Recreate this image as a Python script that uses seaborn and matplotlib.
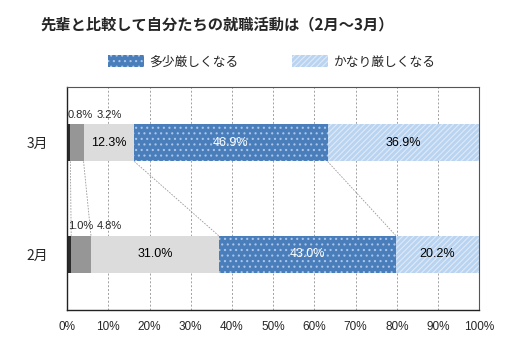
import numpy as np
import pandas as pd
import seaborn as sns
import matplotlib.pyplot as plt

# data
months = ['3月', '2月']
series = ['とても楽になる', 'やや楽になる', '変わらない', '多少厳しくなる', 'かなり厳しくなる']
v_mar = [0.8, 3.2, 12.3, 46.9, 36.9]
v_feb = [1.0, 4.8, 31.0, 43.0, 20.2]
ticks = [0, 10, 20, 30, 40, 50, 60, 70, 80, 90, 100]

colors = ['#2b2b2b', '#969696', '#dcdcdc', '#4a7ebb', '#b9d4f0']
hatches = [None, None, None, '...', '//////']
hatch_cols = [None, None, None, '#a9c5ea', '#dfeaf8']
txt_cols = ['black', 'black', 'black', 'white', 'black']

sns.set_style('white')
plt.rcParams['font.family'] = ['Noto Sans CJK JP', 'DejaVu Sans']
plt.rcParams['hatch.linewidth'] = 0.8

fig = plt.figure(figsize=(5.12, 3.54), dpi=100)
ax = fig.add_axes([0.131, 0.124, 0.805, 0.63])

vals = np.array([v_mar, v_feb])
cum = vals.cumsum(axis=1)
h = 0.333

# draw from the widest stack down so segments overlap into a stacked bar
first_patch = {}
for i in range(len(series) - 1, -1, -1):
    df = pd.DataFrame({'month': months, 'cum': cum[:, i]})
    sns.barplot(data=df, x='cum', y='month', orient='h', order=months,
                color=colors[i], width=h, saturation=1, ax=ax, legend=False)
    for p in ax.patches[-len(months):]:
        p.set_facecolor(colors[i])
        if hatches[i]:
            p.set_hatch(hatches[i])
            p.set_edgecolor(hatch_cols[i])
            p.set_linewidth(0)
        else:
            p.set_edgecolor('none')
    first_patch[series[i]] = ax.patches[-1]

# series connector lines
for i in range(len(series) - 1):
    ax.plot([cum[0, i], cum[1, i]], [0 + h / 2, 1 - h / 2],
            color='#9a9a9a', lw=0.6, ls=(0, (2, 1.5)), zorder=1)

# value labels
for r in range(len(months)):
    left = 0
    for i in range(len(series)):
        v = vals[r, i]
        if i >= 2:
            ax.text(left + v / 2, r, f'{v:.1f}%', ha='center', va='center',
                    fontsize=9, color=txt_cols[i], family='Liberation Sans')
        left += v
    ax.text(0.2, r - h / 2 - 0.04, f'{vals[r, 0]:.1f}%', ha='left', va='bottom',
            fontsize=8, family='Liberation Sans')
    ax.text(10.3, r - h / 2 - 0.04, f'{vals[r, 1]:.1f}%', ha='center', va='bottom',
            fontsize=8, family='Liberation Sans')

ax.set_xlim(0, 100)
ax.set_ylim(1.5, -0.5)
ax.set_xticks(ticks)
ax.set_xticklabels([f'{t}%' for t in ticks], fontsize=8.5, family='Liberation Sans')
ax.tick_params(axis='y', labelsize=10, length=0, pad=14)
ax.tick_params(axis='x', length=0, pad=8)
ax.set_yticks([0.5], minor=True)
ax.tick_params(axis='y', which='minor', direction='in', length=3, color='#333333')
ax.set_xlabel('')
ax.set_ylabel('')
ax.xaxis.grid(True, color='#a0a0a0', ls=(0, (2, 2)), lw=0.7)
ax.set_axisbelow(True)
for s in ['left', 'bottom']:
    ax.spines[s].set_color('#222222')
    ax.spines[s].set_linewidth(1.0)
for s in ['top', 'right']:
    ax.spines[s].set_color('#555555')
    ax.spines[s].set_linewidth(0.8)

if ax.get_legend() is not None:
    ax.get_legend().remove()

fig.legend([first_patch[series[3]], first_patch[series[4]]], [series[3], series[4]],
           loc='center', bbox_to_anchor=(0.53, 0.825), ncol=2, frameon=False,
           fontsize=9.2, handlelength=2.8, handleheight=1.0, columnspacing=4.2,
           handletextpad=0.4)

fig.text(0.078, 0.93, '先輩と比較して自分たちの就職活動は（2月～3月）',
         fontsize=11, fontweight='bold', ha='left', va='center')

fig.savefig('out.png', dpi=100)
